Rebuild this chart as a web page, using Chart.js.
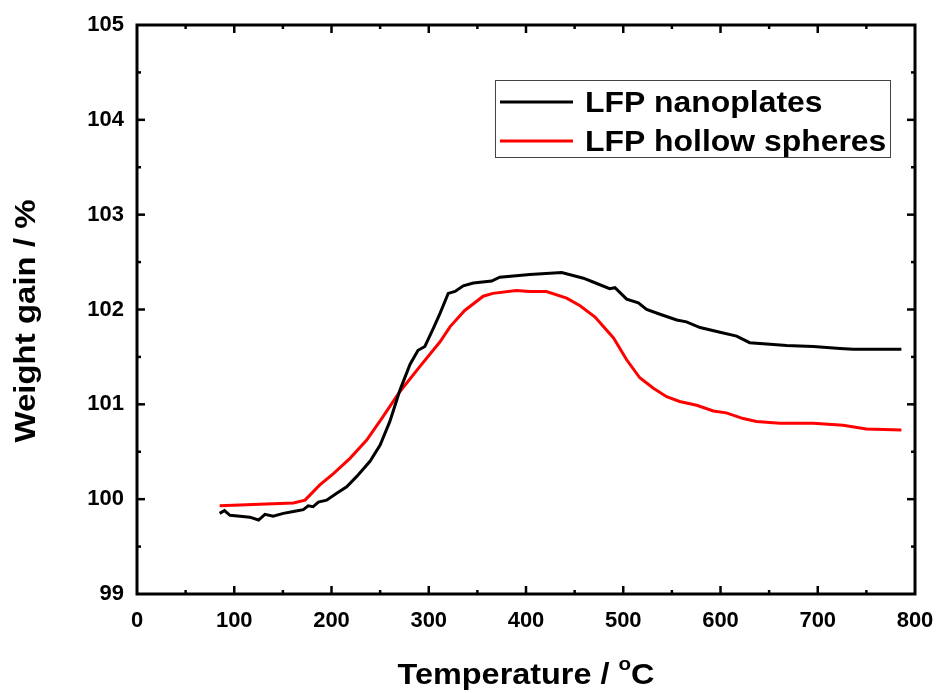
<!DOCTYPE html>
<html><head><meta charset="utf-8">
<script src="https://cdn.jsdelivr.net/npm/chart.js@4/dist/chart.umd.min.js"></script>
<style>html,body{margin:0;padding:0;background:#fff}#wrap{width:940px;height:693px}</style>
</head><body><div id="wrap"><canvas id="c" width="940" height="693"></canvas></div>
<script>
const xTitleMain = "Temperature / ";
const xTitleSup = "o";
const xTitleUnit = "C";
const yTitle = "Weight gain / %";
const seriesNames = ["LFP nanoplates", "LFP hollow spheres"];
const nanoT = [85,90,95.6,106,116,125,131.6,140,150.5,160.8,171,176,181,186.5,195,205,215.6,226,239.6,250,260,270.4,280.7,289,296,304.7,311.6,320,327,335.5,345.8,364.7,373,404,436.7,459,469,486,491.5,503.5,515.5,524,537.8,555,565,579,599.5,616.6,630,644,668,695.4,723,736.6,786];
const nanoW = [99.85,99.88,99.83,99.82,99.81,99.78,99.84,99.82,99.85,99.87,99.89,99.93,99.92,99.97,99.99,100.06,100.13,100.24,100.40,100.57,100.82,101.15,101.42,101.57,101.61,101.80,101.96,102.17,102.19,102.25,102.28,102.30,102.34,102.37,102.39,102.33,102.29,102.22,102.23,102.11,102.07,102.00,101.95,101.89,101.87,101.81,101.76,101.72,101.65,101.64,101.62,101.61,101.59,101.58,101.58];
const hollowT = [85,160.8,172.8,188,202,219,236,253,270,291,311.6,322,337,356,366,390,404,421,441.8,455.6,471,490,503.5,517,531,544.6,558,575.5,592.6,606,623.4,637,661,695.4,726,750,786];
const hollowW = [99.93,99.96,99.99,100.15,100.27,100.43,100.62,100.87,101.13,101.40,101.66,101.82,101.99,102.14,102.17,102.20,102.19,102.19,102.12,102.04,101.92,101.70,101.47,101.28,101.17,101.08,101.03,100.99,100.93,100.91,100.85,100.82,100.80,100.80,100.78,100.74,100.73];
const xMin = 0, xMax = 800, xStep = 100;
const yMin = 99, yMax = 105, yStep = 1;

const FONT = "'Liberation Sans', Arial, sans-serif";
function toPts(t, w){ return t.map((v,i)=>({x:v,y:w[i]})); }

function stretchedText(ctx, text, x, y, sx){
  ctx.save(); ctx.translate(x, y); ctx.scale(sx, 1); ctx.fillText(text, 0, 0); ctx.restore();
}

const framePlugin = {
  id: 'frame',
  afterDatasetsDraw(chart){
    const {ctx, chartArea:a, scales:{x,y}} = chart;
    ctx.save();
    ctx.strokeStyle = '#000';
    ctx.lineWidth = 3;
    ctx.lineCap = 'square';
    ctx.strokeRect(a.left, a.top, a.right-a.left, a.bottom-a.top);
    ctx.lineWidth = 2.5;
    ctx.lineCap = 'butt';
    for (let v = xMin; v <= xMax; v += xStep/2){
      const px = x.getPixelForValue(v);
      const L = (v % xStep === 0) ? 8 : 4;
      if (v===xMin || v===xMax) continue;
      ctx.beginPath(); ctx.moveTo(px, a.bottom); ctx.lineTo(px, a.bottom-L); ctx.stroke();
      ctx.beginPath(); ctx.moveTo(px, a.top); ctx.lineTo(px, a.top+L); ctx.stroke();
    }
    for (let v = yMin; v <= yMax + 1e-9; v += yStep/2){
      const py = y.getPixelForValue(v);
      const major = Math.abs(v - Math.round(v)) < 1e-6;
      const L = major ? 8 : 4;
      if (Math.abs(v-yMin)<1e-6 || Math.abs(v-yMax)<1e-6) continue;
      ctx.beginPath(); ctx.moveTo(a.left, py); ctx.lineTo(a.left+L, py); ctx.stroke();
      ctx.beginPath(); ctx.moveTo(a.right, py); ctx.lineTo(a.right-L, py); ctx.stroke();
    }
    // legend
    const bx = 495, by = 80, bw = 395, bh = 77;
    ctx.lineWidth = 1;
    ctx.strokeStyle = '#444';
    ctx.strokeRect(bx+0.5, by+0.5, bw, bh);
    ctx.font = "bold 29px " + FONT;
    ctx.textBaseline = 'alphabetic';
    ctx.textAlign = 'left';
    ctx.fillStyle = '#000';
    chart.data.datasets.forEach((ds, i) => {
      const ly = 102 + i*39;
      ctx.strokeStyle = ds.borderColor;
      ctx.lineWidth = 3;
      ctx.beginPath(); ctx.moveTo(500, ly); ctx.lineTo(573, ly); ctx.stroke();
      stretchedText(ctx, ds.label, 585, ly + 10, 1.1);
    });

    // x title with superscript
    const sx = 1.08;
    ctx.font = "bold 30px " + FONT;
    const w1 = ctx.measureText(xTitleMain).width * sx;
    const w3 = ctx.measureText(xTitleUnit).width * sx;
    ctx.font = "bold 19px " + FONT;
    const w2 = ctx.measureText(xTitleSup).width * sx;
    const total = w1 + w2 + w3;
    let tx = (a.left + a.right)/2 - total/2;
    const base = 684;
    ctx.font = "bold 30px " + FONT;
    stretchedText(ctx, xTitleMain, tx, base, sx); tx += w1;
    ctx.font = "bold 19px " + FONT;
    stretchedText(ctx, xTitleSup, tx, base - 14, sx); tx += w2;
    ctx.font = "bold 30px " + FONT;
    stretchedText(ctx, xTitleUnit, tx, base, sx);

    // y title
    ctx.save();
    ctx.font = "bold 30px " + FONT;
    ctx.textAlign = 'center';
    ctx.translate(35, 321);
    ctx.rotate(-Math.PI/2);
    ctx.scale(1.1, 1);
    ctx.fillText(yTitle, 0, 0);
    ctx.restore();

    ctx.restore();
  }
};

new Chart(document.getElementById('c'), {
  type: 'line',
  data: { datasets: [
    { label: seriesNames[0], data: toPts(nanoT, nanoW), borderColor: '#000000', borderWidth: 3, pointRadius: 0, tension: 0, fill: false },
    { label: seriesNames[1], data: toPts(hollowT, hollowW), borderColor: '#ff0000', borderWidth: 3, pointRadius: 0, tension: 0, fill: false }
  ]},
  options: {
    responsive: false, animation: false, devicePixelRatio: 1,
    layout: { padding: { left: 0, top: 25, right: 25, bottom: 0 } },
    plugins: { legend: { display: false }, tooltip: { enabled: false } },
    scales: {
      x: { type: 'linear', min: xMin, max: xMax,
        ticks: { stepSize: xStep, color: '#000', padding: 14, maxRotation: 0, font: { family: FONT, size: 22, weight: 'bold' } },
        grid: { display: false, drawTicks: false }, border: { display: false },
        afterFit(s){ s.height = 99; s.paddingRight = 0; s.paddingLeft = 0; }
      },
      y: { type: 'linear', min: yMin, max: yMax,
        ticks: { stepSize: yStep, color: '#000', padding: 13, font: { family: FONT, size: 22, weight: 'bold' } },
        grid: { display: false, drawTicks: false }, border: { display: false },
        afterFit(s){ s.width = 137; s.paddingTop = 0; s.paddingBottom = 0; }
      }
    }
  },
  plugins: [framePlugin]
});
</script></body></html>
